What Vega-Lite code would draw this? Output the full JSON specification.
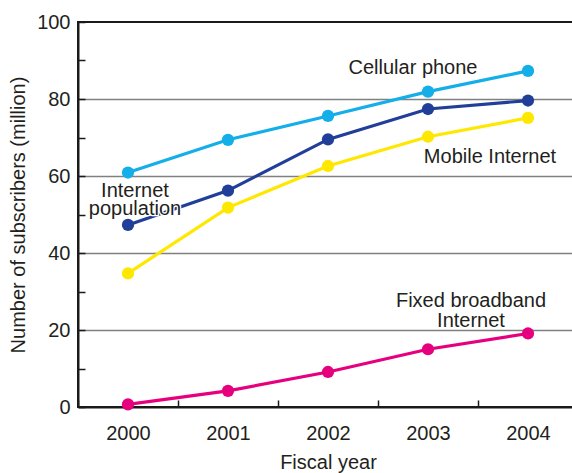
{
  "$schema": "https://vega.github.io/schema/vega-lite/v6.json",
  "width": 500,
  "height": 385,
  "autosize": "none",
  "padding": {"left": 78, "top": 22, "right": 0, "bottom": 66},
  "background": "white",
  "config": {
    "view": {"stroke": "#1a1a1a", "strokeWidth": 2},
    "font": "Liberation Sans"
  },
  "data": {
    "values": [
      {"series": "Cellular phone", "year": 2000, "value": 60.9},
      {"series": "Cellular phone", "year": 2001, "value": 69.4},
      {"series": "Cellular phone", "year": 2002, "value": 75.6},
      {"series": "Cellular phone", "year": 2003, "value": 81.9},
      {"series": "Cellular phone", "year": 2004, "value": 87.3},
      {"series": "Internet population", "year": 2000, "value": 47.3},
      {"series": "Internet population", "year": 2001, "value": 56.2},
      {"series": "Internet population", "year": 2002, "value": 69.5},
      {"series": "Internet population", "year": 2003, "value": 77.4},
      {"series": "Internet population", "year": 2004, "value": 79.6},
      {"series": "Mobile Internet", "year": 2000, "value": 34.7},
      {"series": "Mobile Internet", "year": 2001, "value": 51.8},
      {"series": "Mobile Internet", "year": 2002, "value": 62.6},
      {"series": "Mobile Internet", "year": 2003, "value": 70.2},
      {"series": "Mobile Internet", "year": 2004, "value": 75.1},
      {"series": "Fixed broadband Internet", "year": 2000, "value": 0.7},
      {"series": "Fixed broadband Internet", "year": 2001, "value": 4.2},
      {"series": "Fixed broadband Internet", "year": 2002, "value": 9.1},
      {"series": "Fixed broadband Internet", "year": 2003, "value": 15.0},
      {"series": "Fixed broadband Internet", "year": 2004, "value": 19.1}
    ]
  },
  "encoding": {
    "x": {
      "field": "year",
      "type": "ordinal",
      "scale": {"type": "band", "paddingInner": 0, "paddingOuter": 0},
      "axis": {
        "title": "Fiscal year",
        "labelAngle": 0,
        "tickBand": "extent",
        "tickSize": -7,
        "tickWidth": 1.5,
        "tickColor": "#1a1a1a",
        "domainColor": "#1a1a1a",
        "domainWidth": 2,
        "labelFontSize": 20,
        "labelColor": "#231f20",
        "labelPadding": 23,
        "titleFontSize": 20,
        "titleFontWeight": "normal",
        "titleColor": "#231f20",
        "titlePadding": 9
      }
    },
    "y": {
      "field": "value",
      "type": "quantitative",
      "scale": {"domain": [0, 100], "nice": false},
      "axis": {
        "title": "Number of subscribers (million)",
        "values": [0, 10, 20, 30, 40, 50, 60, 70, 80, 90, 100],
        "labelExpr": "datum.value % 20 === 0 ? datum.label : ''",
        "grid": true,
        "gridColor": "#808080",
        "gridWidth": 1.5,
        "gridOpacity": {"condition": {"test": "datum.value % 20 === 0 && datum.value > 0 && datum.value < 100", "value": 1}, "value": 0},
        "tickSize": -7,
        "tickWidth": 1.5,
        "tickColor": "#1a1a1a",
        "domainColor": "#1a1a1a",
        "domainWidth": 2,
        "labelFontSize": 20,
        "labelColor": "#231f20",
        "labelPadding": 15,
        "titleFontSize": 20,
        "titleFontWeight": "normal",
        "titleColor": "#231f20",
        "titlePadding": 8
      }
    }
  },
  "layer": [
    {
      "mark": {"type": "line", "strokeWidth": 3.2},
      "encoding": {
        "color": {
          "field": "series",
          "type": "nominal",
          "scale": {
            "domain": ["Cellular phone", "Internet population", "Mobile Internet", "Fixed broadband Internet"],
            "range": ["#14aee8", "#213f99", "#ffe800", "#e6007e"]
          },
          "legend": null
        }
      }
    },
    {
      "mark": {"type": "point", "filled": true, "opacity": 1, "size": 150},
      "encoding": {
        "color": {"field": "series", "type": "nominal", "legend": null}
      }
    },
    {
      "transform": [{"filter": "datum.series === 'Cellular phone' && datum.year === 2003"}],
      "mark": {"type": "text", "text": "Cellular phone", "dx": -15, "dy": -18, "baseline": "alphabetic", "align": "center", "fontSize": 20, "color": "#231f20"}
    },
    {
      "transform": [{"filter": "datum.series === 'Mobile Internet' && datum.year === 2004"}],
      "mark": {"type": "text", "text": "Mobile Internet", "dx": -38, "dy": 45, "baseline": "alphabetic", "align": "center", "fontSize": 20, "color": "#231f20"}
    },
    {
      "transform": [{"filter": "datum.series === 'Internet population' && datum.year === 2000"}],
      "mark": {"type": "text", "text": ["Internet", "population"], "dx": 7, "dy": -28, "baseline": "alphabetic", "align": "center", "fontSize": 20, "lineHeight": 18, "color": "white", "stroke": "white", "strokeWidth": 2.5}
    },
    {
      "transform": [{"filter": "datum.series === 'Internet population' && datum.year === 2000"}],
      "mark": {"type": "text", "text": ["Internet", "population"], "dx": 7, "dy": -28, "baseline": "alphabetic", "align": "center", "fontSize": 20, "lineHeight": 18, "color": "#231f20"}
    },
    {
      "transform": [{"filter": "datum.series === 'Fixed broadband Internet' && datum.year === 2004"}],
      "mark": {"type": "text", "text": ["Fixed broadband", "Internet"], "dx": -57, "dy": -26, "baseline": "alphabetic", "align": "center", "fontSize": 20, "lineHeight": 20, "color": "#231f20"}
    }
  ]
}
